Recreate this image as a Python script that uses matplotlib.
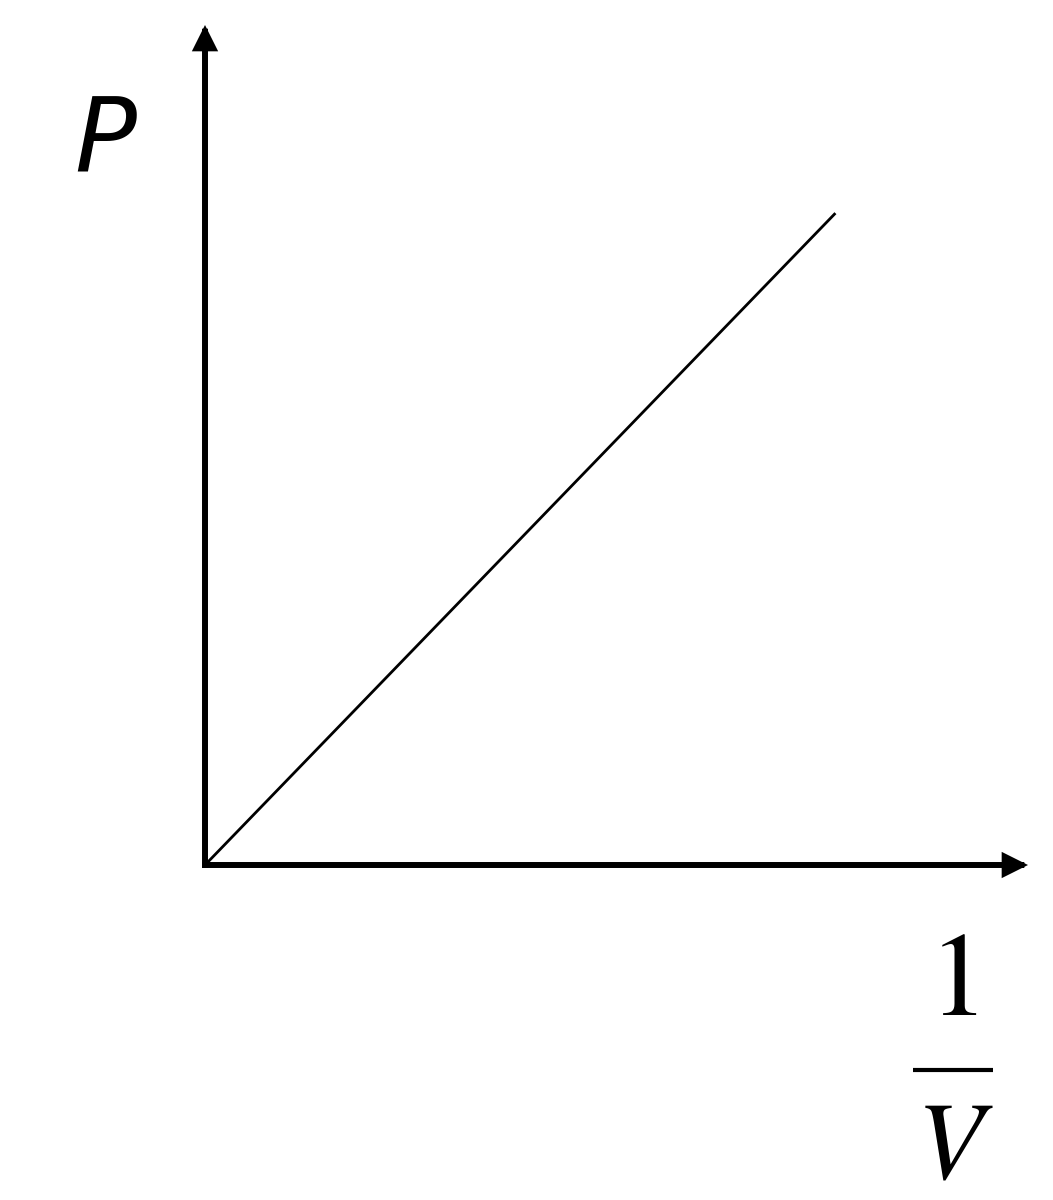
import matplotlib
matplotlib.use("Agg")
import matplotlib.pyplot as plt

# data: pressure proportional to 1/V
inv_V = [0.0, 0.766]
P = [0.0, 0.776]
x_label_num = "1"
x_label_den = "V"
y_label = "P"

plt.rcParams['mathtext.fontset'] = 'stix'

W, H = 1053, 1200
fig = plt.figure(figsize=(W / 100, H / 100), dpi=100)
ox, oy = 205, 865
tipx, tipy = 1028, 25
ax = fig.add_axes([ox / W, (H - oy) / H, (tipx - ox) / W, (oy - tipy) / H])
ax.set_xlim(0, 1)
ax.set_ylim(0, 1)
ax.axis('off')

ax.plot(inv_V, P, color='black', lw=2.0, solid_capstyle='butt', clip_on=False)

arrow_kw = dict(arrowstyle='-|>,head_length=12,head_width=6', mutation_scale=1,
                lw=4.3, color='black', shrinkA=0, shrinkB=0, joinstyle='miter',
                capstyle='projecting')
ax.annotate('', xy=(1, 0), xytext=(0, 0), xycoords='axes fraction',
            textcoords='axes fraction', arrowprops=arrow_kw, annotation_clip=False)
ax.annotate('', xy=(0, 1), xytext=(0, 0), xycoords='axes fraction',
            textcoords='axes fraction', arrowprops=arrow_kw, annotation_clip=False)

def axx(px):
    return (px - ox) / (tipx - ox)

def axy(py):
    return (oy - py) / (oy - tipy)

ax.text(axx(105), axy(172), y_label, transform=ax.transAxes, ha='center', va='baseline',
        fontsize=74, fontstyle='italic', family='DejaVu Sans', clip_on=False)
ax.text(axx(953), axy(1015), '$\\mathrm{' + x_label_num + '}$', transform=ax.transAxes,
        ha='center', va='baseline', fontsize=86, clip_on=False)
ax.text(axx(955), axy(1095), '$' + x_label_den + '$', transform=ax.transAxes,
        ha='center', va='top', fontsize=79, clip_on=False)
ax.plot([axx(913), axx(993)], [axy(1070), axy(1070)], transform=ax.transAxes,
        color='black', lw=3.0, solid_capstyle='butt', clip_on=False)

fig.savefig('out.png', dpi=100, facecolor='white')
